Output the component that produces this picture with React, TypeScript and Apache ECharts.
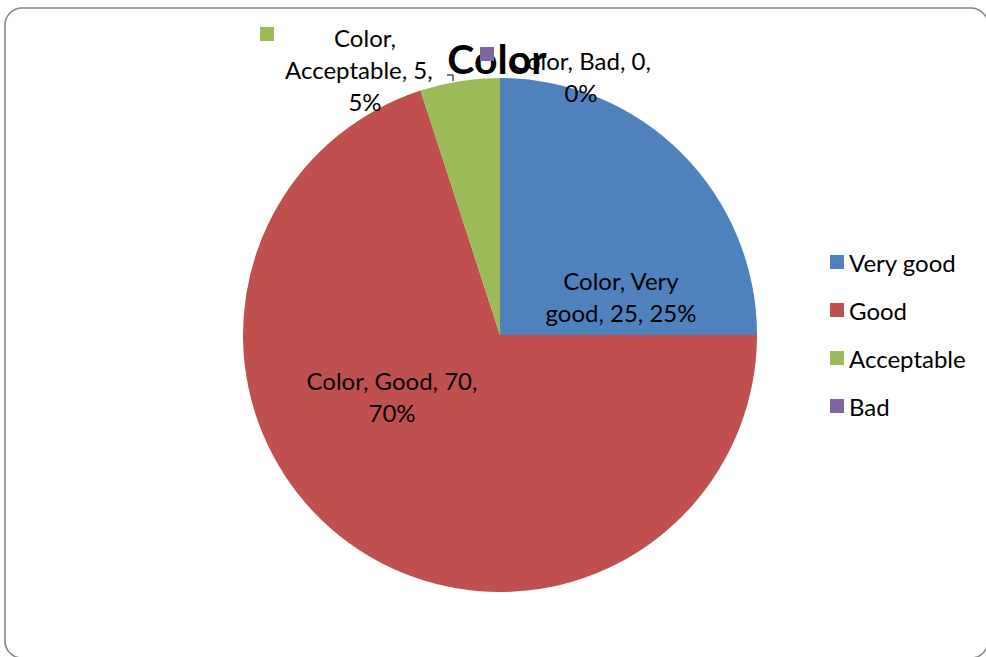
import React, { useEffect, useRef } from "react";
import * as echarts from "echarts";

const seriesName = "Color";
const categories = ["Very good", "Good", "Acceptable", "Bad"];
const values = [25, 70, 5, 0];
const percents = [25, 70, 5, 0];
const colors = ["#4F81BD", "#C0504D", "#9BBB59", "#8064A2"];

// label layout (positions only)
const labelPos = [
  { x: 621, y: 296 },
  { x: 392, y: 396 },
  { x: 365, y: 69 },
  { x: 581, y: 76 },
];

const FONT = "Lato";

function labelText(i: number): string {
  const c = categories[i];
  const v = values[i];
  const p = percents[i];
  if (i === 0) return `${seriesName}, ${c.split(" ")[0]}\n${c.split(" ")[1]}, ${v}, ${p}%`;
  if (i === 1) return `${seriesName}, ${c}, ${v},\n${p}%`;
  if (i === 2) return `${seriesName},\n${c}, ${v},  \n${p}%`;
  return `${seriesName}, ${c}, ${v},\n${p}%`;
}

export default function App() {
  const ref = useRef<HTMLDivElement>(null);
  useEffect(() => {
    document.body.style.margin = "0";
    const chart = echarts.init(ref.current!, null, { renderer: "svg" });
    chart.setOption({
      animation: false,
      backgroundColor: "#ffffff",
      color: colors,
      title: {
        text: seriesName,
        left: 492,
        top: 33,
        textAlign: "center",
        z: 1,
        textStyle: { fontFamily: FONT, fontWeight: "bold", fontSize: 41, color: "#000" },
      },
      legend: {
        orient: "vertical",
        left: 825,
        top: 245,
        itemWidth: 14,
        itemHeight: 14,
        itemGap: 24,
        icon: "rect",
        data: categories,
        textStyle: { fontFamily: FONT, fontSize: 24, color: "#000" },
      },
      graphic: [
        {
          type: "rect",
          silent: true,
          z: -1,
          shape: { x: 5, y: 8, width: 983, height: 650, r: 17 },
          style: { fill: "#fff", stroke: "#868686", lineWidth: 1.6 },
        },
        {
          type: "rect",
          silent: true,
          z: 100,
          shape: { x: 260, y: 27, width: 14, height: 14 },
          style: { fill: colors[2] },
        },
        {
          type: "rect",
          silent: true,
          z: 100,
          shape: { x: 480, y: 47, width: 14, height: 14 },
          style: { fill: colors[3] },
        },
      ],
      series: [
        {
          type: "pie",
          name: seriesName,
          center: [500, 335],
          radius: 257,
          startAngle: 90,
          clockwise: true,
          z: 2,
          avoidLabelOverlap: false,
          itemStyle: { borderWidth: 0 },
          label: {
            show: true,
            position: "outside",
            fontFamily: FONT,
            fontSize: 24,
            lineHeight: 32,
            color: "#000",
            align: "center",
            formatter: (p: any) => labelText(p.dataIndex),
          },
          labelLine: { show: false },
          labelLayout: (p: any) => {
            const pos = labelPos[p.dataIndex];
            const res: any = { x: pos.x, y: pos.y, align: "center", verticalAlign: "middle" };
            if (p.dataIndex === 2) {
              res.labelLinePoints = [
                [447, 75],
                [453, 75],
                [453, 81],
              ];
            }
            return res;
          },
          data: categories.map((c, i) => ({
            name: c,
            value: values[i],
            labelLine:
              i === 2
                ? { show: true, lineStyle: { color: "#000", width: 1 }, length: 5, length2: 5 }
                : { show: false },
          })),
        },
      ],
    });
    return () => chart.dispose();
  }, []);
  return <div ref={ref} style={{ position: "absolute", left: 0, top: 0, width: 986, height: 657 }} />;
}
